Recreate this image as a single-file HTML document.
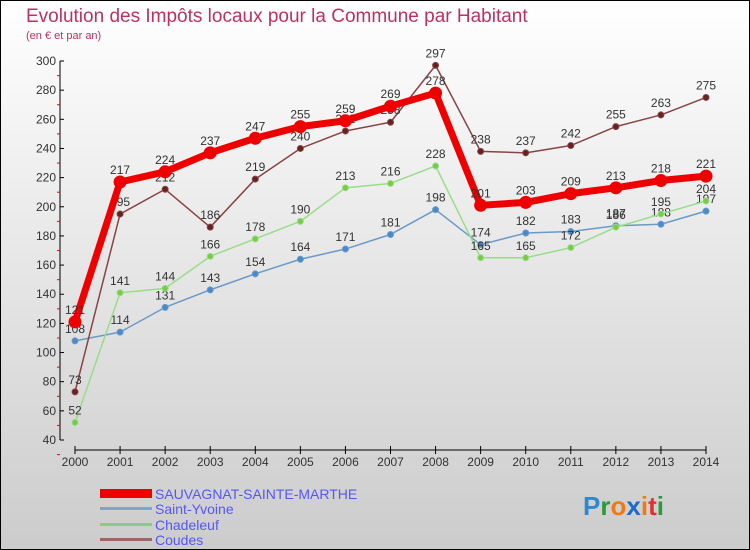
<!DOCTYPE html>
<html><head><meta charset="utf-8"><style>
body{margin:0;width:750px;height:550px;overflow:hidden;font-family:"Liberation Sans",sans-serif}
#wrap{position:absolute;left:0;top:0;width:748px;height:548px;border:1px solid #000;background:linear-gradient(#fff,#ccc)}
</style></head><body>
<div id="wrap">
<svg id="chart" width="750" height="550" style="position:absolute;left:-1px;top:-1px">
<text x="26" y="22" font-size="19" fill="#c0305e">Evolution des Impôts locaux pour la Commune par Habitant</text>
<text x="26" y="39" font-size="11" fill="#c0305e">(en € et par an)</text>
<g id="axes"></g><g id="series"></g>
<g>
<rect x="100" y="489" width="52" height="9" fill="#e00"/>
<text x="155" y="499" font-size="14" fill="#55f">SAUVAGNAT-SAINTE-MARTHE</text>
<rect x="100" y="507" width="52" height="3" fill="#7aa6c8"/>
<text x="155" y="514" font-size="14" fill="#55f">Saint-Yvoine</text>
<rect x="100" y="523" width="52" height="3" fill="#8c8"/>
<text x="155" y="530" font-size="14" fill="#55f">Chadeleuf</text>
<rect x="100" y="538" width="52" height="3" fill="#966"/>
<text x="155" y="545" font-size="14" fill="#55f">Coudes</text>
</g>
<text x="583" y="515" font-size="26" font-weight="bold"><tspan fill="#2a8ad0">P</tspan><tspan fill="#2a9a3a">r</tspan><tspan fill="#f07a10">o</tspan><tspan fill="#1a6ad0">x</tspan><tspan fill="#f07a10">i</tspan><tspan fill="#e03030">t</tspan><tspan fill="#2a9a3a">i</tspan></text>
</svg></div>
<script>
const years=[2000,2001,2002,2003,2004,2005,2006,2007,2008,2009,2010,2011,2012,2013,2014];
const yTicks=[40,60,80,100,120,140,160,180,200,220,240,260,280,300];
const sauvagnat=[121,217,224,237,247,255,259,269,278,201,203,209,213,218,221];
const saintYvoine=[108,114,131,143,154,164,171,181,198,174,182,183,187,188,197];
const chadeleuf=[52,141,144,166,178,190,213,216,228,165,165,172,186,195,204];
const coudes=[73,195,212,186,219,240,252,258,297,238,237,242,255,263,275];
const NS="http://www.w3.org/2000/svg";
const xS=i=>75+i*(631/14);
const yS=v=>440-(v-40)*(379/260);
function mk(t,a,p){const e=document.createElementNS(NS,t);for(const k in a)e.setAttribute(k,a[k]);p.appendChild(e);return e;}
const ax=document.getElementById('axes');
let l=mk('line',{x1:60,y1:61,x2:60,y2:440,stroke:'#000','stroke-width':1},ax);


l=mk('line',{x1:75,y1:450,x2:706,y2:450,stroke:'#000','stroke-width':1},ax);


yTicks.forEach(v=>{const y=yS(v);
mk('line',{x1:60,y1:y,x2:64,y2:y,stroke:'#000'},ax);
mk('line',{x1:57,y1:y+14.6,x2:60,y2:y+14.6,stroke:'#e00'},ax);
const t=mk('text',{x:56,y:y+4,'font-size':12,'text-anchor':'end',fill:'#333'},ax);t.textContent=v;

});
years.forEach((yr,i)=>{const x=xS(i);
mk('line',{x1:x,y1:446,x2:x,y2:454,stroke:'#000'},ax);
const t=mk('text',{x:x,y:466,'font-size':12,'text-anchor':'middle',fill:'#333'},ax);t.textContent=yr;

});
const sg=document.getElementById('series');
function draw(arr,name,color,dot,w,r){
const g=mk('g',{},sg);


const p=mk('polyline',{points:arr.map((v,i)=>xS(i)+','+yS(v)).join(' '),fill:'none',stroke:color,'stroke-width':w,'stroke-linejoin':'round'},g);


arr.forEach((v,i)=>{const c=mk('circle',{cx:xS(i),cy:yS(v),r:r,fill:dot,stroke:color,'stroke-width':1},g);


const t=mk('text',{x:xS(i),y:yS(v)-8,'font-size':12,'text-anchor':'middle',fill:'#333'},g);t.textContent=v;

});}
draw(saintYvoine,'saint-yvoine','#6a9ac8','#4a8ac8',1.5,3);
draw(chadeleuf,'chadeleuf','#9d8','#7c4',1.5,3);
draw(coudes,'coudes','#844','#622',1.5,3);
draw(sauvagnat,'sauvagnat','#e00','#e00',7,6);
</script>
</body></html>
